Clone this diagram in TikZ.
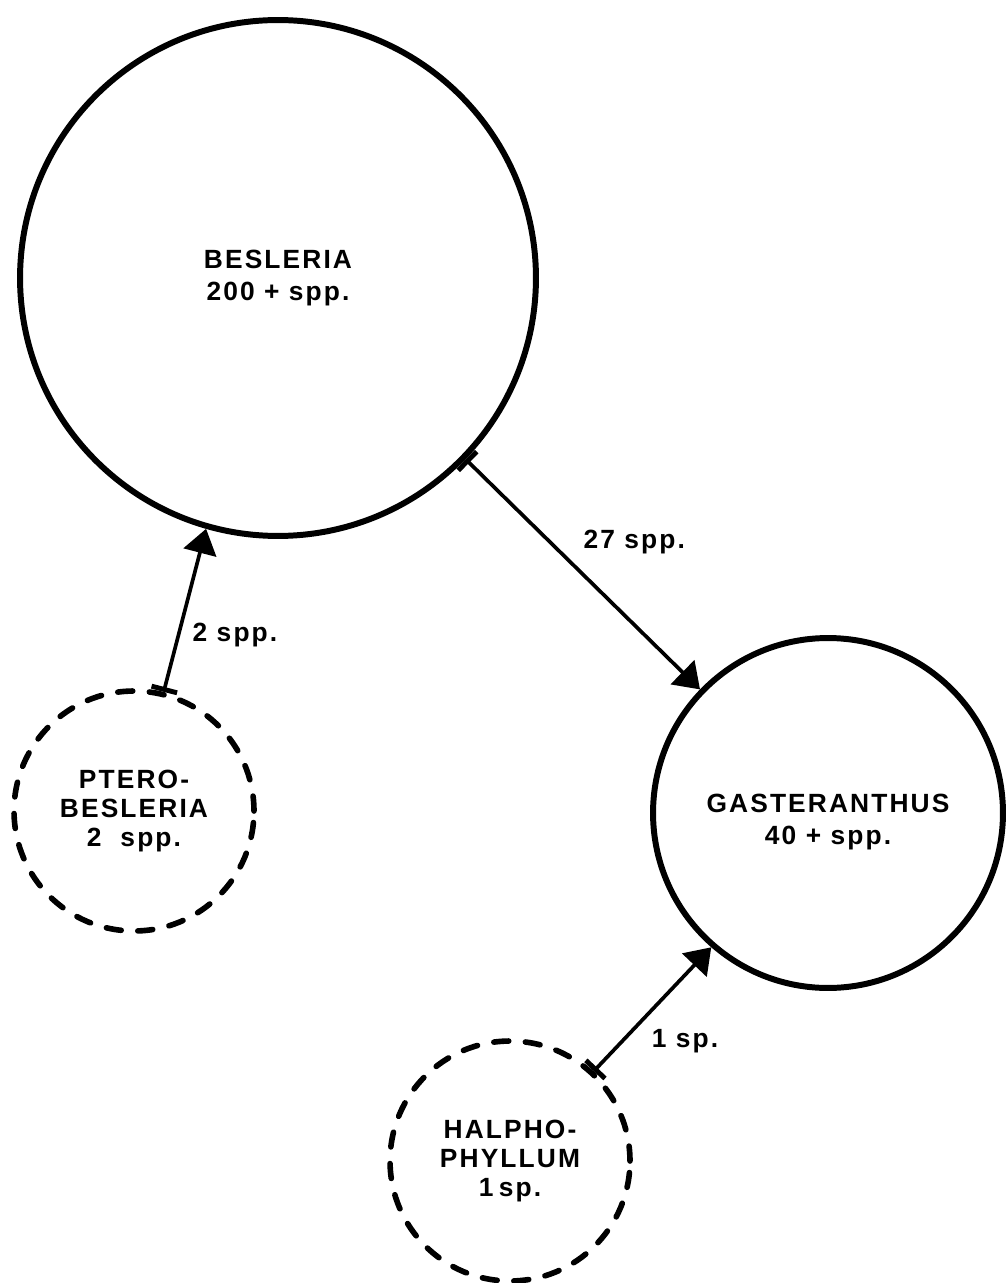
\documentclass[tikz,border=0pt]{standalone}
\usepackage{fontspec}
\newfontfamily\taxfont{Liberation Sans}[LetterSpace=8]
\usetikzlibrary{arrows.meta}

\begin{document}
\begin{tikzpicture}[x=0.02cm,y=-0.02cm,line join=round,
    genus/.style={circle,draw,line width=3.4pt,inner sep=0pt,align=center,
      font=\taxfont\bfseries\fontsize{15}{18.5}\selectfont},
    segregate/.style={genus,line width=3.2pt,line cap=round,
      dash pattern=on 8.5pt off 9.5pt,font=\taxfont\bfseries\fontsize{15}{16.5}\selectfont},
    flow/.style={line width=2.1pt,
      {Bar[width=15pt,line width=2.8pt]}-{Triangle[length=14pt,width=19pt]}},
    count/.style={anchor=west,inner sep=0pt,font=\taxfont\bfseries\fontsize{15}{16}\selectfont}]
  \useasboundingbox (0,0) rectangle (1006,1283);
  % --- genera ---
  \node[genus,minimum size=10.32cm] (besleria) at (278,278) {BESLERIA\\200 + spp.};
  \node[genus,minimum size=7cm] (gaster) at (828,813)
    {\rule{0pt}{21pt}GASTERANTHUS\\40 + spp.};
  % --- segregate genera (dashed) ---
  \node[segregate,minimum size=4.8cm] (ptero) at (134,811) {PTERO-\\BESLERIA\\2~~spp.};
  \node[segregate,minimum size=4.8cm] (halpho) at (510,1161) {HALPHO-\\PHYLLUM\\1\hspace{3pt}sp.};
  % --- species flows ---
  \draw[flow] (ptero.76) -- node[count,pos=.35,xshift=7pt] {2 spp.} (besleria.254);
  \draw[flow] (besleria.-44.5) -- node[count,pos=.36,xshift=18pt] {27 spp.} (gaster.136.4);
  \draw[flow] (halpho.47) -- node[count,pos=.24,xshift=16pt] {1 sp.} (gaster.229);
\end{tikzpicture}
\end{document}
